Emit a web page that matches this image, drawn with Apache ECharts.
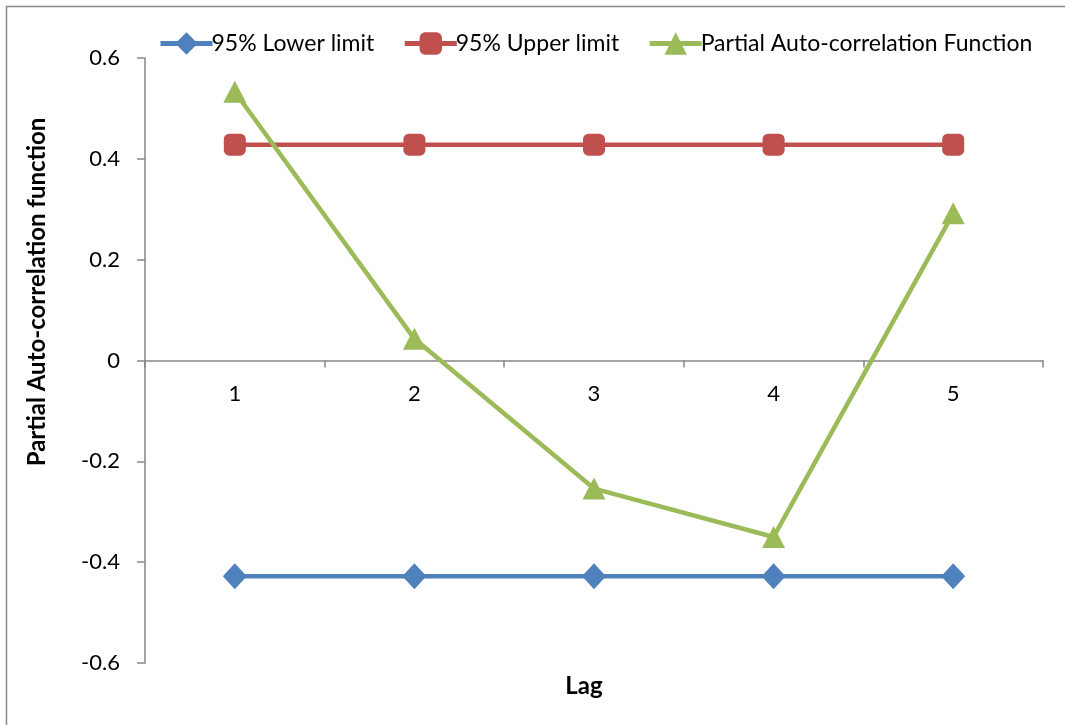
<!DOCTYPE html>
<html>
<head>
<meta charset="utf-8">
<script src="https://cdn.jsdelivr.net/npm/echarts@6/dist/echarts.min.js"></script>
<style>
  html, body { margin: 0; padding: 0; background: #fff; }
  #chart { width: 1065px; height: 725px; }
</style>
</head>
<body>
<div id="chart"></div>
<script>
// Lags and PACF values with the 95% confidence band
const lags = ['1', '2', '3', '4', '5'];
const lowerLimit = [-0.428, -0.428, -0.428, -0.428, -0.428];
const upperLimit = [0.428, 0.428, 0.428, 0.428, 0.428];
const pacf = [0.533, 0.043, -0.254, -0.35, 0.292];
const yTicks = { min: -0.6, max: 0.6, step: 0.2 };

const FONT = 'Lato, "Liberation Sans", sans-serif';
const FS = 22;
const AXIS_GRAY = '#868686';

const GRID = { left: 145, right: 22, top: 58, bottom: 62 };
const PLOT_H = 725 - GRID.top - GRID.bottom;
// the category labels sit just under the zero line, not at the grid bottom
const zeroFromBottom = PLOT_H * (0 - yTicks.min) / (yTicks.max - yTicks.min);

const chart = echarts.init(document.getElementById('chart'), null, { renderer: 'canvas' });

function lineSeries(name, data, color, symbol, size) {
  return {
    name: name,
    type: 'line',
    data: data,
    symbol: symbol,
    symbolSize: size,
    showAllSymbol: true,
    lineStyle: { color: color, width: 4.5 },
    itemStyle: { color: color },
    emphasis: { disabled: true },
    animation: false
  };
}

chart.setOption({
  backgroundColor: '#fff',
  animation: false,
  textStyle: { fontFamily: FONT },
  grid: GRID,
  legend: {
    left: 153,
    top: 27,
    itemWidth: 52,
    itemHeight: 28,
    itemGap: 28,
    lineStyle: { width: 5 },
    textStyle: { fontFamily: FONT, fontSize: 23, color: '#000', padding: [0, 0, 0, -6] },
    data: ['95% Lower limit', '95% Upper limit', 'Partial Auto-correlation Function']
  },
  xAxis: {
    type: 'category',
    data: lags,
    boundaryGap: true,
    axisLine: { onZero: true, lineStyle: { color: AXIS_GRAY, width: 1.5 } },
    axisTick: { show: true, length: 7, lineStyle: { color: AXIS_GRAY, width: 1.5 } },
    axisLabel: { margin: 22 - zeroFromBottom, fontSize: FS, color: '#000', fontFamily: FONT },
    splitLine: { show: false }
  },
  yAxis: {
    type: 'value',
    min: yTicks.min,
    max: yTicks.max,
    interval: yTicks.step,
    axisLine: { show: true, lineStyle: { color: AXIS_GRAY, width: 1.5 } },
    axisTick: { show: true, length: 8, lineStyle: { color: AXIS_GRAY, width: 1.5 } },
    axisLabel: {
      margin: 25, fontSize: FS, color: '#000', fontFamily: FONT,
      formatter: v => (Math.abs(v) < 1e-9 ? '0' : String(Math.round(v * 10) / 10))
    },
    splitLine: { show: false }
  },
  graphic: [
    {
      type: 'rect',
      shape: { x: 6.5, y: 6.5, width: 1070, height: 730 },
      style: { fill: 'none', stroke: '#888', lineWidth: 1.5 },
      silent: true
    },
    {
      type: 'text',
      x: 37, y: 292,
      rotation: Math.PI / 2,
      style: {
        text: 'Partial Auto-correlation function',
        fontFamily: FONT, fontSize: 24, fontWeight: 'bold', fill: '#000',
        align: 'center', verticalAlign: 'middle'
      }
    },
    {
      type: 'text',
      x: 584, y: 686,
      style: {
        text: 'Lag',
        fontFamily: FONT, fontSize: 24, fontWeight: 'bold', fill: '#000',
        align: 'center', verticalAlign: 'middle'
      }
    }
  ],
  series: [
    lineSeries('95% Lower limit', lowerLimit, '#4F81BD', 'diamond', [24, 26]),
    lineSeries('95% Upper limit', upperLimit, '#C0504D', 'roundRect', [22, 22]),
    lineSeries('Partial Auto-correlation Function', pacf, '#9BBB59', 'triangle', [23, 22])
  ]
});
</script>
</body>
</html>
